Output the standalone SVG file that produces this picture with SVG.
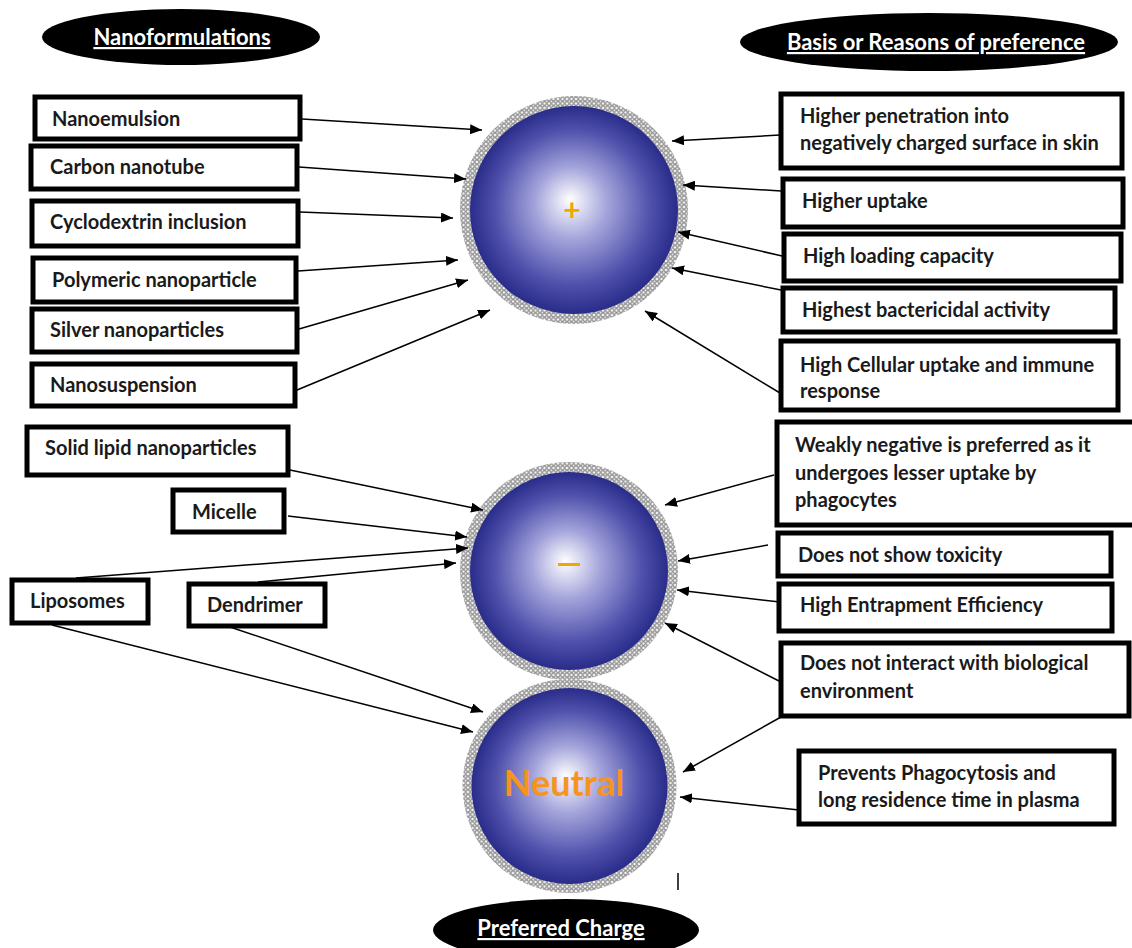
<svg xmlns="http://www.w3.org/2000/svg" width="1132" height="948" viewBox="0 0 1132 948">
<style>
.box{fill:#fff;stroke:#000;stroke-width:5}
.t{font-family:Lato,"Liberation Sans",sans-serif;font-weight:bold;font-size:20px;fill:#1a1a1a}
.hd{font-family:Lato,"Liberation Sans",sans-serif;font-weight:bold;font-size:22px;fill:#fff;text-decoration:underline;text-anchor:middle}
.ar{stroke:#000;stroke-width:1.5;fill:none;marker-end:url(#ah)}
.core{fill:url(#g)}
.shell{fill:url(#dots)}
.sym{font-family:Lato,"Liberation Sans",sans-serif;font-weight:bold;text-anchor:middle}
</style>
<defs>
<marker id="ah" viewBox="0 0 12 10" refX="12" refY="5" markerWidth="12" markerHeight="10" markerUnits="userSpaceOnUse" orient="auto">
<path d="M0,0 L12,5 L0,10 z" fill="#000"/>
</marker>
<radialGradient id="g" cx="0.5" cy="0.5" r="0.5" fx="0.48" fy="0.45">
<stop offset="0" stop-color="#ffffff"/>
<stop offset="0.35" stop-color="#a3a3db"/>
<stop offset="0.75" stop-color="#4e50ab"/>
<stop offset="1" stop-color="#2a2c8a"/>
</radialGradient>
<pattern id="dots" patternUnits="userSpaceOnUse" width="4.5" height="4.5">
<rect width="4.5" height="4.5" fill="#fff"/>
<circle cx="2.25" cy="2.25" r="1.6" fill="none" stroke="#5f5f5f" stroke-width="1"/>
</pattern>
</defs>
<rect width="1132" height="948" fill="#fff"/>

<g id="hdr-nano">
<ellipse cx="181" cy="37" rx="139" ry="28" fill="#000"/>
<text class="hd" x="182" y="45">Nanoformulations</text>
</g>
<g id="hdr-basis">
<ellipse cx="929" cy="42" rx="189" ry="29" fill="#000"/>
<text class="hd" x="936" y="50">Basis or Reasons of preference</text>
</g>
<g id="hdr-charge">
<ellipse cx="566" cy="930" rx="133" ry="31" fill="#000"/>
<text class="hd" x="561" y="936">Preferred Charge</text>
</g>

<g id="positive">
<circle class="shell" cx="574" cy="210" r="114"/>
<circle class="core" cx="574" cy="210" r="104"/>
<text class="sym" x="572" y="221" font-size="30" fill="#f0a800">+</text>
</g>
<g id="negative">
<circle class="shell" cx="569" cy="571" r="109"/>
<circle class="core" cx="569" cy="571" r="99"/>
<rect x="558" y="563" width="22" height="3" fill="#f0a800"/>
</g>
<g id="neutral">
<circle class="shell" cx="569.5" cy="786" r="107"/>
<circle class="core" cx="569.5" cy="786" r="98"/>
<text class="sym" x="564" y="796" font-size="36" fill="#f7941d">Neutral</text>
</g>
<line x1="678" y1="873" x2="678" y2="890" stroke="#000" stroke-width="1.5"/>

<g id="n-nanoemulsion"><rect class="box" x="35" y="97" width="265" height="42"/><text class="t" x="52" y="126">Nanoemulsion</text></g>
<g id="n-carbon"><rect class="box" x="31" y="146" width="266" height="43"/><text class="t" x="50" y="174">Carbon nanotube</text></g>
<g id="n-cyclo"><rect class="box" x="32" y="201" width="266" height="45"/><text class="t" x="50" y="229">Cyclodextrin inclusion</text></g>
<g id="n-polymeric"><rect class="box" x="33" y="258" width="263" height="44"/><text class="t" x="52" y="287">Polymeric nanoparticle</text></g>
<g id="n-silver"><rect class="box" x="32" y="309" width="265" height="43"/><text class="t" x="50" y="337">Silver nanoparticles</text></g>
<g id="n-nanosusp"><rect class="box" x="32" y="364" width="263" height="42"/><text class="t" x="50" y="392">Nanosuspension</text></g>

<g id="n-sln"><rect class="box" x="27" y="427" width="261" height="48"/><text class="t" x="45" y="455">Solid lipid nanoparticles</text></g>
<g id="n-micelle"><rect class="box" x="173" y="490" width="111" height="42"/><text class="t" x="192" y="519">Micelle</text></g>
<g id="n-liposomes"><rect class="box" x="12" y="580" width="136" height="43"/><text class="t" x="30" y="608">Liposomes</text></g>
<g id="n-dendrimer"><rect class="box" x="189" y="584" width="136" height="42"/><text class="t" x="207" y="612">Dendrimer</text></g>

<g id="r-penetration"><rect class="box" x="781" y="94" width="341" height="74"/><text class="t" x="800" y="123">Higher penetration into</text><text class="t" x="800" y="150">negatively charged surface in skin</text></g>
<g id="r-uptake"><rect class="box" x="783" y="179" width="340" height="48"/><text class="t" x="802" y="208">Higher uptake</text></g>
<g id="r-loading"><rect class="box" x="784" y="234" width="337" height="47"/><text class="t" x="803" y="263">High loading capacity</text></g>
<g id="r-bacter"><rect class="box" x="783" y="288" width="332" height="44"/><text class="t" x="802" y="317">Highest bactericidal activity</text></g>
<g id="r-cellular"><rect class="box" x="781" y="341" width="337" height="69"/><text class="t" x="800" y="372">High Cellular uptake and immune</text><text class="t" x="800" y="398">response</text></g>

<g id="r-weakly"><rect class="box" x="777" y="422" width="360" height="103"/><text class="t" x="795" y="452">Weakly negative is preferred as it</text><text class="t" x="795" y="480">undergoes lesser uptake by</text><text class="t" x="795" y="507">phagocytes</text></g>
<g id="r-toxicity"><rect class="box" x="778" y="533" width="333" height="43"/><text class="t" x="798" y="562">Does not show toxicity</text></g>
<g id="r-entrap"><rect class="box" x="779" y="584" width="333" height="47"/><text class="t" x="800" y="612">High Entrapment Efficiency</text></g>
<g id="r-interact"><rect class="box" x="781" y="643" width="348" height="73"/><text class="t" x="800" y="670">Does not interact with biological</text><text class="t" x="800" y="698">environment</text></g>
<g id="r-prevents"><rect class="box" x="799" y="751" width="315" height="73"/><text class="t" x="818" y="780">Prevents Phagocytosis and</text><text class="t" x="818" y="807">long residence time in plasma</text></g>

<g id="connectors">
<line class="ar" x1="302" y1="119" x2="482" y2="130"/>
<line class="ar" x1="299" y1="167" x2="466" y2="179"/>
<line class="ar" x1="300" y1="212" x2="453" y2="218"/>
<line class="ar" x1="298" y1="271" x2="458" y2="260"/>
<line class="ar" x1="299" y1="329" x2="468" y2="280"/>
<line class="ar" x1="297" y1="390" x2="490" y2="310"/>

<line class="ar" x1="780" y1="135" x2="672" y2="141"/>
<line class="ar" x1="781" y1="191" x2="683" y2="185"/>
<line class="ar" x1="782" y1="256" x2="678" y2="232"/>
<line class="ar" x1="781" y1="290" x2="672" y2="268"/>
<line class="ar" x1="780" y1="393" x2="645" y2="311"/>

<line class="ar" x1="290" y1="470" x2="483" y2="510"/>
<line class="ar" x1="288" y1="516" x2="467" y2="537"/>
<line class="ar" x1="76" y1="578" x2="468" y2="548"/>
<line class="ar" x1="258" y1="582" x2="456" y2="563"/>
<line class="ar" x1="52" y1="625" x2="473" y2="732"/>
<line class="ar" x1="230" y1="627" x2="483" y2="712"/>

<line class="ar" x1="774" y1="475" x2="665" y2="505"/>
<line class="ar" x1="768" y1="545" x2="678" y2="561"/>
<line class="ar" x1="780" y1="602" x2="677" y2="590"/>
<line class="ar" x1="781" y1="682" x2="665" y2="623"/>
<line class="ar" x1="781" y1="717" x2="683" y2="772"/>
<line class="ar" x1="799" y1="810" x2="680" y2="797"/>
</g>
</svg>
